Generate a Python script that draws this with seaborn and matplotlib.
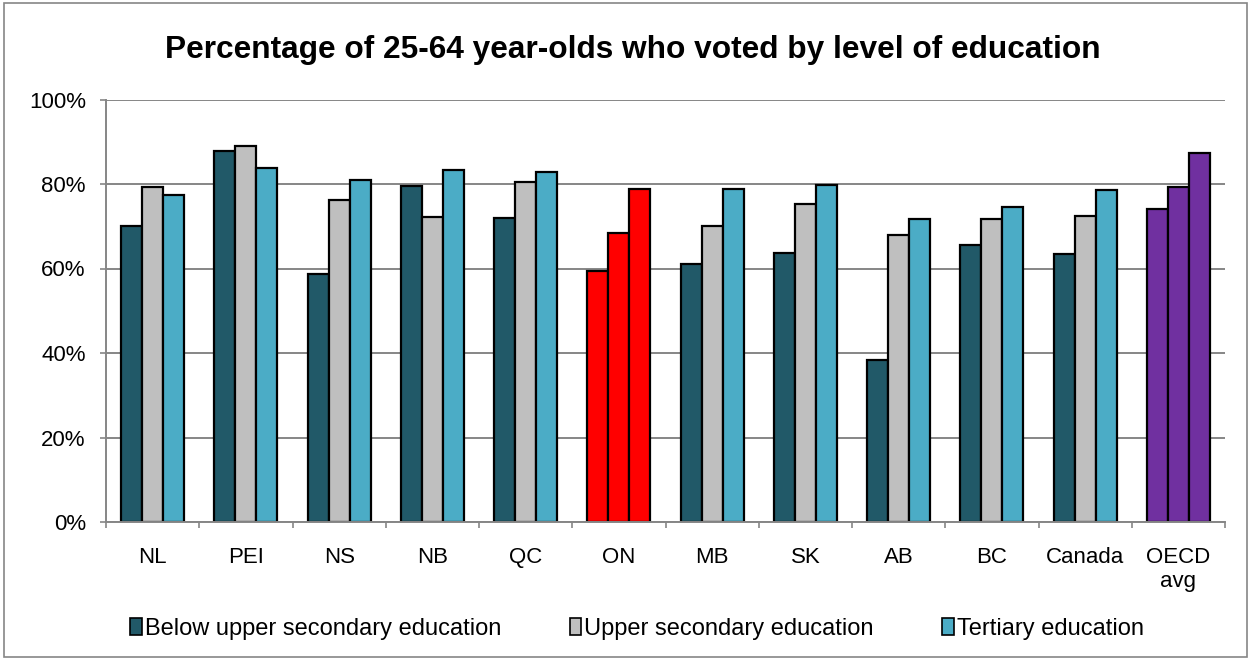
import matplotlib
matplotlib.use("Agg")
import matplotlib.pyplot as plt
from matplotlib.patches import Patch, Rectangle
from matplotlib.ticker import FixedLocator
import seaborn as sns
import pandas as pd

# Voting rates (%) of 25-64 year-olds by highest level of education
regions = ["NL", "PEI", "NS", "NB", "QC", "ON", "MB", "SK", "AB", "BC", "Canada", "OECD\navg"]
levels = ["Below upper secondary education", "Upper secondary education", "Tertiary education"]
below_upper_secondary = [70.0, 87.8, 58.6, 79.6, 72.0, 59.5, 61.1, 63.7, 38.4, 65.6, 63.5, 74.2]
upper_secondary = [79.3, 88.9, 76.1, 72.2, 80.5, 68.5, 70.1, 75.2, 67.9, 71.8, 72.4, 79.4]
tertiary = [77.5, 83.7, 80.9, 83.2, 82.8, 78.7, 78.9, 79.8, 71.8, 74.5, 78.6, 87.4]

level_colors = ["#215968", "#BFBFBF", "#4BACC6"]
highlight = {"ON": "#FF0000", "OECD\navg": "#7030A0"}

df = pd.DataFrame({
    "region": regions * 3,
    "level": [levels[0]] * len(regions) + [levels[1]] * len(regions) + [levels[2]] * len(regions),
    "value": below_upper_secondary + upper_secondary + tertiary,
})

sns.set_theme(style="white")
plt.rcParams["font.family"] = ["Liberation Sans", "DejaVu Sans"]
plt.rcParams["text.color"] = "black"

W, H = 1250, 659
fig = plt.figure(figsize=(W / 100, H / 100), dpi=100)
fig.patch.set_facecolor("white")
left, right, top, bottom = 106, 1225, 99.5, 522
ax = fig.add_axes([left / W, 1 - bottom / H, (right - left) / W, (bottom - top) / H])

sns.barplot(data=df, x="region", y="value", hue="level", order=regions, hue_order=levels,
            palette=level_colors, width=0.675, edgecolor="black", linewidth=1.6,
            saturation=1, legend=False, ax=ax)

# Recolour the highlighted groups
for container in ax.containers:
    for region, bar in zip(regions, container):
        if region in highlight:
            bar.set_facecolor(highlight[region])

grid_color = "#868686"
ax.set_ylim(0, 100)
ax.set_xlim(-0.5, len(regions) - 0.5)
ax.set_yticks([0, 20, 40, 60, 80, 100])
ax.set_yticklabels([f"{v}%" for v in [0, 20, 40, 60, 80, 100]])
ax.yaxis.grid(True, color=grid_color, linewidth=1.4)
ax.xaxis.grid(False)
ax.set_axisbelow(True)
ax.set_xlabel("")
ax.set_ylabel("")

for side in ["top", "right"]:
    ax.spines[side].set_visible(False)
for side in ["left", "bottom"]:
    ax.spines[side].set_color(grid_color)
    ax.spines[side].set_linewidth(1.4)

ax.tick_params(axis="y", left=True, length=4.5, width=1.2, color=grid_color,
               labelsize=16, pad=10, labelcolor="black")
ax.tick_params(axis="x", bottom=False, labelsize=16, pad=12, labelcolor="black")
# Category axis tick marks between groups
ax.xaxis.set_minor_locator(FixedLocator([i - 0.5 for i in range(len(regions) + 1)]))
ax.tick_params(axis="x", which="minor", bottom=True, length=4.5, width=1.2, color=grid_color)

fig.text(633 / W, 1 - 50 / H, "Percentage of 25-64 year-olds who voted by level of education",
         ha="center", va="center", fontsize=22.8, fontweight="bold", color="black")

handles = [Patch(facecolor=c, edgecolor="black", linewidth=1.2) for c in level_colors]
fig.legend(handles, levels, loc="center", bbox_to_anchor=(637 / W, 1 - 629 / H), ncol=3,
           frameon=False, fontsize=17, handlelength=0.5, handleheight=0.7,
           handletextpad=0.12, columnspacing=2.9, labelcolor="black")

fig.add_artist(Rectangle((4 / W, 2 / H), 1243 / W, 654 / H, transform=fig.transFigure,
                         fill=False, edgecolor=grid_color, linewidth=1.2))

fig.savefig("out.png", dpi=100, facecolor="white")
